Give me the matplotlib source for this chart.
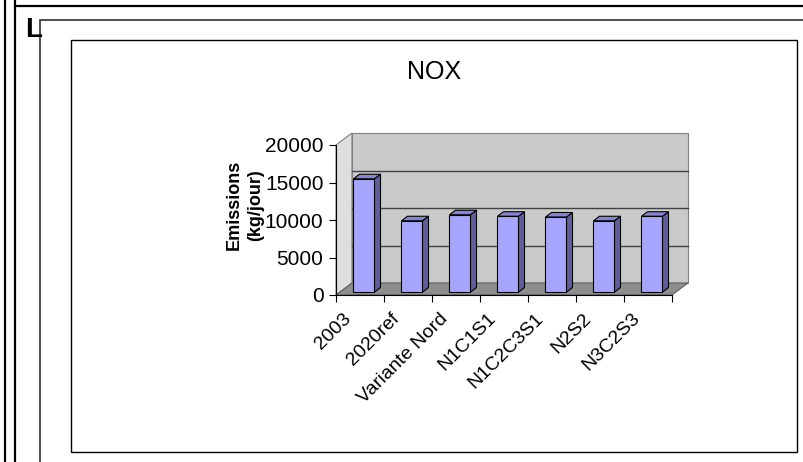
import matplotlib
matplotlib.use('Agg')
import matplotlib.pyplot as plt
from matplotlib.patches import Polygon, Rectangle
from matplotlib.transforms import ScaledTranslation

plt.rcParams['font.family'] = ['Liberation Sans', 'DejaVu Sans']

# NOX emissions per scenario (kg/jour)
scenarios = ['2003', '2020ref', 'Variante Nord', 'N1C1S1', 'N1C2C3S1', 'N2S2', 'N3C2S3']
emissions = [15100, 9500, 10300, 10100, 10000, 9500, 10100]
y_ticks = [0, 5000, 10000, 15000, 20000]
y_max = 20000

W, H = 804, 462
fig = plt.figure(figsize=(W / 100, H / 100), dpi=100)

# page background: document borders and the chart object frame (pixel coords)
bg = fig.add_axes([0, 0, 1, 1])
bg.set_xlim(0, W)
bg.set_ylim(H, 0)
bg.axis('off')
bg.plot([5.5, 5.5], [0, H], color='black', lw=1.6)
bg.plot([15.5, 15.5], [0, H], color='black', lw=1.6)
bg.plot([15.5, W], [6, 6], color='black', lw=1.6)
bg.text(25, 37, 'L', fontsize=20, fontweight='bold', va='baseline', ha='left')
bg.add_patch(Rectangle((40, 20), W, H, facecolor='white', edgecolor='#303030', lw=1.2))
bg.add_patch(Rectangle((71, 40), 726, 412, facecolor='white', edgecolor='black', lw=1.0))

# plotting area, front plane of the 3-D box
ax = fig.add_axes([336 / W, (H - 295) / H, 336 / W, 150 / H])
ax.set_xlim(0, len(scenarios))
ax.set_ylim(0, y_max)
ax.patch.set_visible(False)
for s in ['top', 'right']:
    ax.spines[s].set_visible(False)
ax.spines['left'].set_color('black')
ax.spines['bottom'].set_color('black')
ax.spines['left'].set_zorder(5)
ax.spines['bottom'].set_zorder(5)

n = len(scenarios)
DX = 16 / 48          # depth offset in category units
DY = 1600             # depth offset in value units

# side wall, back wall and floor
ax.add_patch(Polygon([(0, 0), (DX, DY), (DX, y_max + DY), (0, y_max)],
                     closed=True, facecolor='#dedede', edgecolor='#808080', lw=0.8, clip_on=False, zorder=1))
ax.add_patch(Polygon([(DX, DY), (n + DX, DY), (n + DX, y_max + DY), (DX, y_max + DY)],
                     closed=True, facecolor='#cacaca', edgecolor='#808080', lw=0.8, clip_on=False, zorder=1))
ax.add_patch(Polygon([(0, 0), (n, 0), (n + DX, DY), (DX, DY)],
                     closed=True, facecolor='#8e8e8e', edgecolor='#606060', lw=0.8, clip_on=False, zorder=1))
for v in y_ticks[1:-1]:
    ax.plot([DX, n + DX], [v + DY, v + DY], color='#404040', lw=1.0, clip_on=False, zorder=2)

# 3-D bars
w = 21 / 48
sx, sy = DX * 0.25, DY * 0.25
bdx, bdy = DX * 0.375, DY * 0.375
for i, v in enumerate(emissions):
    x0 = i + (1 - w) / 2 + sx
    front = [(x0, sy), (x0 + w, sy), (x0 + w, sy + v), (x0, sy + v)]
    side = [(x0 + w, sy), (x0 + w + bdx, sy + bdy), (x0 + w + bdx, sy + bdy + v), (x0 + w, sy + v)]
    top = [(x0, sy + v), (x0 + w, sy + v), (x0 + w + bdx, sy + v + bdy), (x0 + bdx, sy + v + bdy)]
    for pts, c in [(side, '#5f5f9c'), (top, '#8585d6'), (front, '#a6a6ff')]:
        ax.add_patch(Polygon(pts, closed=True, facecolor=c, edgecolor='black', lw=0.8,
                             clip_on=False, zorder=3))

# axes ticks
ax.set_yticks(y_ticks)
ax.set_yticklabels([str(t) for t in y_ticks])
ax.tick_params(axis='y', direction='out', length=5, width=0.8, pad=4, labelsize=15)
ax.set_xticks([])
ax.set_xticks(range(n + 1), minor=True)
ax.tick_params(axis='x', which='minor', direction='out', length=5, width=0.8)

# category labels, rotated
off = ScaledTranslation(-17 / 100, -15 / 100, fig.dpi_scale_trans)
for i, name in enumerate(scenarios):
    ax.text(i + 0.5, 0, name, transform=ax.get_xaxis_transform() + off,
            rotation=45, ha='right', va='top', rotation_mode='anchor', fontsize=14)

fig.text(434.5 / W, 1 - 79 / H, 'NOX', ha='center', va='baseline', fontsize=18)
fig.text(245 / W, 1 - 205 / H, 'Emissions\n(kg/jour)', rotation=90, ha='center', va='center',
         fontsize=13, fontweight='bold', linespacing=1.4, multialignment='center')

fig.savefig('out.png', dpi=100)
